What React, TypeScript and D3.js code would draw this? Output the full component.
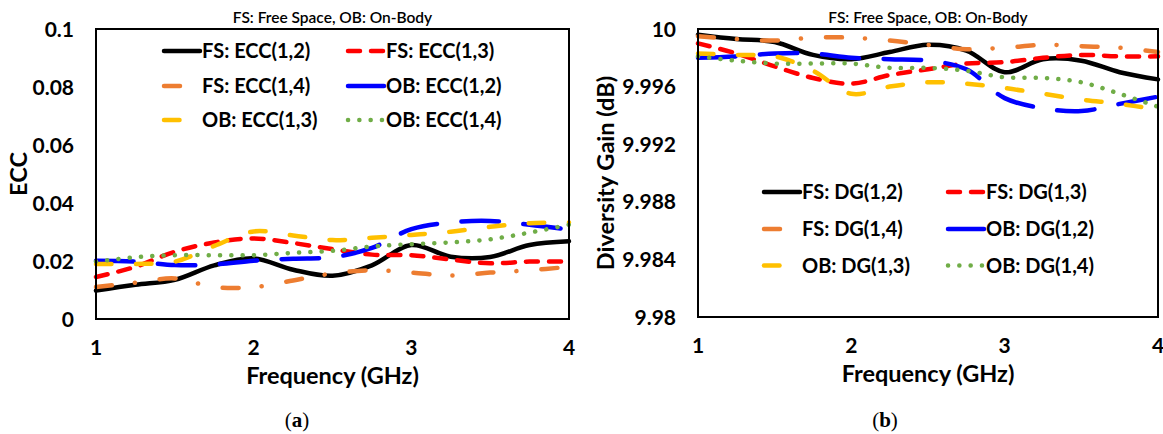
import React from "react";
import * as d3 from "d3";

// frequency samples (GHz)
const freq = [1, 1.25, 1.5, 1.75, 2, 2.25, 2.5, 2.75, 3, 3.25, 3.5, 3.75, 4];

// (a) ECC
const eccFs12 = [0.0098, 0.0118, 0.0135, 0.0185, 0.0209, 0.017, 0.0149, 0.0185, 0.0255, 0.0215, 0.0214, 0.0255, 0.0268];
const eccFs13 = [0.0145, 0.018, 0.0232, 0.0264, 0.0278, 0.0262, 0.0241, 0.0222, 0.022, 0.0205, 0.0192, 0.0198, 0.0198];
const eccFs14 = [0.011, 0.0125, 0.014, 0.011, 0.011, 0.0133, 0.0157, 0.0168, 0.016, 0.015, 0.016, 0.0168, 0.018];
const eccOb12 = [0.0201, 0.0198, 0.0186, 0.0188, 0.0201, 0.0208, 0.0213, 0.0245, 0.031, 0.0333, 0.0338, 0.0325, 0.0308];
const eccOb13 = [0.019, 0.019, 0.0198, 0.0252, 0.0302, 0.0288, 0.0272, 0.028, 0.029, 0.0301, 0.0318, 0.033, 0.0333];
const eccOb14 = [0.0198, 0.0213, 0.022, 0.022, 0.022, 0.0228, 0.0235, 0.025, 0.0258, 0.0264, 0.0275, 0.0298, 0.0325];

// (b) diversity gain
const dgFs12 = [9.9996, 9.9993, 9.9991, 9.9982, 9.9979, 9.9984, 9.9989, 9.9985, 9.997, 9.9979, 9.9978, 9.997, 9.9965];
const dgFs13 = [9.999, 9.9983, 9.9974, 9.9966, 9.9962, 9.9968, 9.9972, 9.9976, 9.9977, 9.998, 9.9982, 9.9981, 9.9981];
const dgFs14 = [9.9995, 9.9993, 9.9992, 9.9994, 9.9994, 9.9992, 9.9989, 9.9986, 9.9987, 9.9989, 9.9988, 9.9987, 9.9984];
const dgOb12 = [9.998, 9.9981, 9.9983, 9.9983, 9.998, 9.9979, 9.9978, 9.9972, 9.9952, 9.9945, 9.9943, 9.9948, 9.9953];
const dgOb13 = [9.9983, 9.9982, 9.9981, 9.9971, 9.9955, 9.996, 9.9963, 9.9962, 9.9959, 9.9955, 9.9951, 9.9948, 9.9944];
const dgOb14 = [9.9981, 9.9978, 9.9976, 9.9976, 9.9976, 9.9973, 9.9973, 9.9971, 9.99665, 9.9966, 9.9963, 9.9955, 9.9946];

const xTicks = [1, 2, 3, 4];
const eccTicks = [0, 0.02, 0.04, 0.06, 0.08, 0.1];
const dgTicks = [9.98, 9.984, 9.988, 9.992, 9.996, 10];

const eccLabels = ["FS: ECC(1,2)", "FS: ECC(1,3)", "FS: ECC(1,4)", "OB: ECC(1,2)", "OB: ECC(1,3)", "OB: ECC(1,4)"];
const dgLabels = ["FS: DG(1,2)", "FS: DG(1,3)", "FS: DG(1,4)", "OB: DG(1,2)", "OB: DG(1,3)", "OB: DG(1,4)"];

// line styles, same order as the series
const styles = [
  { color: "#000000", dash: "none" },
  { color: "#FF0000", dash: "12 11" },
  { color: "#ED7D31", dash: "16 23 0.1 25" },
  { color: "#0000FF", dash: "37.5 24.5" },
  { color: "#FFC000", dash: "15.5 24.5" },
  { color: "#70AD47", dash: "0.1 11.2" },
];

const FONT = "Lato, 'Open Sans', sans-serif";

function Panel({ left, right, top, bottom, domain, ticks, tickFmt, series, labels, yTitle, yTitleX, legend, caption, captionX }) {
  const x = d3.scaleLinear().domain([1, 4]).range([left, right]);
  const y = d3.scaleLinear().domain(domain).range([bottom, top]);
  const line = d3
    .line<number>()
    .x((_, i) => x(freq[i]))
    .y((d) => y(d))
    .curve(d3.curveCatmullRom.alpha(0.5));
  const cx = (left + right) / 2;
  const cy = (top + bottom) / 2;

  return (
    <g>
      <text x={cx} y={23} textAnchor="middle" fontSize={15.5} fontWeight={600} fontFamily={FONT}>
        FS: Free Space, OB: On-Body
      </text>

      {series.map((s, i) => (
        <path
          key={i}
          d={line(s)}
          fill="none"
          stroke={styles[i].color}
          strokeWidth={4.5}
          strokeLinecap="round"
          strokeLinejoin="round"
          strokeDasharray={styles[i].dash}
        />
      ))}

      <rect x={left} y={top} width={right - left} height={bottom - top} fill="none" stroke="#000" strokeWidth={2} />

      {ticks.map((t) => (
        <text key={t} x={left - 22} y={y(t) + 7.5} textAnchor="end" fontSize={21} fontWeight={700} fontFamily={FONT}>
          {tickFmt(t)}
        </text>
      ))}
      {xTicks.map((t) => (
        <text key={t} x={x(t)} y={bottom + 36} textAnchor="middle" fontSize={21} fontWeight={700} fontFamily={FONT}>
          {t}
        </text>
      ))}

      <text x={cx} y={bottom + 65} textAnchor="middle" fontSize={23.5} fontWeight={700} fontFamily={FONT}>
        Frequency (GHz)
      </text>
      <text
        transform={`translate(${yTitleX},${cy}) rotate(-90)`}
        textAnchor="middle"
        fontSize={23.5}
        fontWeight={700}
        fontFamily={FONT}
      >
        {yTitle}
      </text>

      {labels.map((lab, i) => {
        const col = i % 2;
        const row = Math.floor(i / 2);
        const lx = legend.cols[col];
        const ly = legend.rows[row];
        return (
          <g key={lab}>
            <line
              x1={lx}
              x2={lx + 36}
              y1={ly}
              y2={ly}
              stroke={styles[i].color}
              strokeWidth={4.5}
              strokeLinecap="round"
              strokeDasharray={styles[i].dash}
            />
            <text x={lx + 38} y={ly + 7} fontSize={20} fontWeight={700} fontFamily={FONT}>
              {lab}
            </text>
          </g>
        );
      })}

      <text x={captionX} y={427} textAnchor="middle" fontSize={21} fontFamily="'Liberation Serif', serif">
        (<tspan fontWeight={700}>{caption}</tspan>)
      </text>
    </g>
  );
}

export default function App() {
  return (
    <svg width={1163} height={434} style={{ position: "absolute", left: 0, top: 0, background: "#fff" }}>
      <Panel
        left={96}
        right={569}
        top={29}
        bottom={319}
        domain={[0, 0.1]}
        ticks={eccTicks}
        tickFmt={(t) => d3.format("~g")(t)}
        series={[eccFs12, eccFs13, eccFs14, eccOb12, eccOb13, eccOb14]}
        labels={eccLabels}
        yTitle="ECC"
        yTitleX={27}
        legend={{ cols: [164, 348], rows: [51, 86, 120] }}
        caption="a"
        captionX={297}
      />
      <Panel
        left={698}
        right={1158}
        top={29}
        bottom={317}
        domain={[9.98, 10]}
        ticks={dgTicks}
        tickFmt={(t) => d3.format("~g")(t)}
        series={[dgFs12, dgFs13, dgFs14, dgOb12, dgOb13, dgOb14]}
        labels={dgLabels}
        yTitle="Diversity Gain (dB)"
        yTitleX={614}
        legend={{ cols: [764, 948], rows: [192, 229, 265.5] }}
        caption="b"
        captionX={885}
      />
    </svg>
  );
}
